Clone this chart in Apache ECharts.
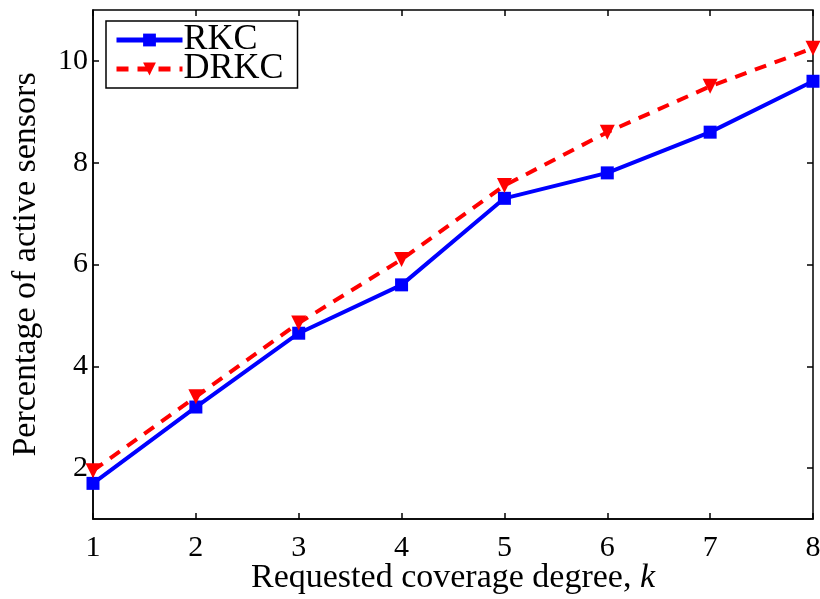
<!DOCTYPE html>
<html>
<head>
<meta charset="utf-8">
<script src="https://cdn.jsdelivr.net/npm/echarts@6/dist/echarts.min.js"></script>
<style>html,body{margin:0;padding:0;background:#fff}#c{width:820px;height:599px}</style>
</head>
<body>
<div id="c"></div>
<script>
const kValues = [1, 2, 3, 4, 5, 6, 7, 8];
const rkc = [1.7, 3.2, 4.65, 5.6, 7.3, 7.8, 8.6, 9.6];
const drkc = [1.95, 3.4, 4.85, 6.1, 7.55, 8.6, 9.5, 10.25];
const yTicks = [2, 4, 6, 8, 10];
const seriesNames = ['RKC', 'DRKC'];
const xTitle = 'Requested coverage degree, ';
const yTitle = 'Percentage of active sensors';

const font = '"Liberation Serif", "DejaVu Serif", serif';
const chart = echarts.init(document.getElementById('c'));
const pair = (xs, ys) => xs.map((x, i) => [x, ys[i]]);
chart.setOption({
  animation: false,
  backgroundColor: '#fff',
  grid: { left: 93, right: 7, top: 10, bottom: 80, show: true, borderColor: '#000', borderWidth: 1.5, outerBoundsMode: 'none', containLabel: false },
  legend: {
    orient: 'vertical', left: 106, top: 21,
    backgroundColor: '#fff', borderColor: '#000', borderWidth: 1.5,
    padding: [1, 14, 1, 8], itemGap: -7, itemWidth: 66, itemHeight: 16,
    textStyle: { fontFamily: font, fontSize: 36, color: '#000', padding: [0, 0, 0, -4] },
    data: [
      { name: seriesNames[0], lineStyle: { width: 5, color: '#0000ff' } },
      { name: seriesNames[1], lineStyle: { width: 5, color: '#ff0000', type: [12, 9] } }
    ]
  },
  xAxis: [{
    type: 'value', min: 1, max: 8, interval: 1,
    axisLine: { lineStyle: { color: '#000', width: 1.5 } },
    axisTick: { inside: true, length: 6, lineStyle: { color: '#000', width: 1.5 } },
    axisLabel: { fontFamily: font, fontSize: 30, color: '#000', margin: 14 },
    splitLine: { show: false },
    name: xTitle + '{k|k}', nameLocation: 'middle', nameGap: 42, nameMoveOverlap: false,
    nameTextStyle: { fontFamily: font, fontSize: 34, color: '#000', rich: { k: { fontStyle: 'italic', fontFamily: font, fontSize: 34, color: '#000' } } }
  }, {
    type: 'value', min: 1, max: 8, interval: 1, position: 'top',
    axisLine: { show: false },
    axisTick: { inside: true, length: 6, lineStyle: { color: '#000', width: 1.5 } },
    axisLabel: { show: false }, splitLine: { show: false }
  }],
  yAxis: [{
    type: 'value', min: 1, max: 11,
    axisLine: { show: true, lineStyle: { color: '#000', width: 1.5 } },
    axisTick: { show: true, inside: true, length: 6, customValues: yTicks, lineStyle: { color: '#000', width: 1.5 } },
    axisLabel: { fontFamily: font, fontSize: 30, color: '#000', margin: 5, customValues: yTicks },
    splitLine: { show: false },
    name: yTitle, nameLocation: 'middle', nameGap: 50, nameMoveOverlap: false,
    nameTextStyle: { fontFamily: font, fontSize: 34, color: '#000' }
  }, {
    type: 'value', min: 1, max: 11, position: 'right',
    axisLine: { show: false },
    axisTick: { show: true, inside: true, length: 6, customValues: yTicks, lineStyle: { color: '#000', width: 1.5 } },
    axisLabel: { show: false }, splitLine: { show: false }
  }],
  series: [{
    name: seriesNames[0], type: 'line', data: pair(kValues, rkc),
    symbol: 'rect', symbolSize: 13,
    itemStyle: { color: '#0000ff' },
    lineStyle: { color: '#0000ff', width: 4 }
  }, {
    name: seriesNames[1], type: 'line', data: pair(kValues, drkc),
    symbol: 'triangle', symbolSize: 15, symbolRotate: 180,
    itemStyle: { color: '#ff0000' },
    lineStyle: { color: '#ff0000', width: 4, type: [12, 9] }
  }]
});
</script>
</body>
</html>
